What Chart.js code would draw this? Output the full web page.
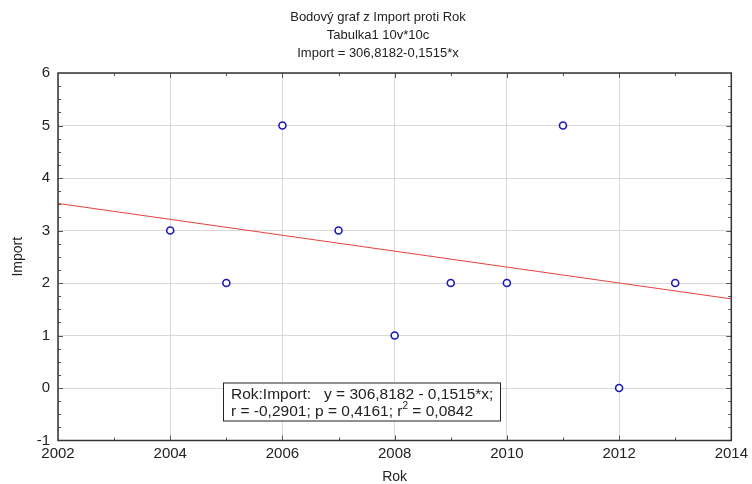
<!DOCTYPE html>
<html>
<head>
<meta charset="utf-8">
<script src="https://cdn.jsdelivr.net/npm/chart.js@4"></script>
<style>
  html, body { margin: 0; padding: 0; background: #fff; }
  #wrap { width: 752px; height: 484px; }
</style>
</head>
<body>
<div id="wrap"><canvas id="chart" width="752" height="484"></canvas></div>
<script>
// Données
var roky = [2004, 2005, 2006, 2007, 2008, 2009, 2010, 2011, 2012, 2013];
var importy = [3, 2, 5, 3, 1, 2, 2, 5, 0, 2];

// Droite de régression : Import = 306,8182 - 0,1515*x
var fit_a = 306.8182;
var fit_b = -0.1515;
var x_min = 2002, x_max = 2014;
var y_min = -1, y_max = 6;

var titres = ['Bodový graf z Import proti Rok', 'Tabulka1 10v*10c', 'Import = 306,8182-0,1515*x'];
var legende1 = 'Rok:Import:   y = 306,8182 - 0,1515*x;';
var legende2a = 'r = -0,2901; p = 0,4161; r';
var legende2b = ' = 0,0842';

var police = '"Liberation Sans", Arial, sans-serif';

var points = roky.map(function (r, i) { return { x: r, y: importy[i] }; });
var droite = [
	{ x: x_min, y: fit_a + fit_b * x_min },
	{ x: x_max, y: fit_a + fit_b * x_max }
];

// Plugin pour les titres, le cadre, les petites graduations et la boîte de texte
var decor = {
	id: 'decor',
	afterDraw: function (chart) {
		var ctx = chart.ctx;
		var a = chart.chartArea;
		var sx = chart.scales.x, sy = chart.scales.y;
		ctx.save();

		// titres
		ctx.fillStyle = '#222';
		ctx.font = '13px ' + police;
		ctx.textAlign = 'center';
		ctx.textBaseline = 'middle';
		titres.forEach(function (t, i) { ctx.fillText(t, 378, 17 + i * 18); });

		// titres des axes
		ctx.font = '14px ' + police;
		ctx.fillText('Rok', (a.left + a.right) / 2, 477);
		ctx.save();
		ctx.translate(18, (a.top + a.bottom) / 2);
		ctx.rotate(-Math.PI / 2);
		ctx.fillText('Import', 0, 0);
		ctx.restore();

		// petites graduations
		ctx.strokeStyle = '#555';
		ctx.lineWidth = 1;
		ctx.beginPath();
		for (var x = x_min + 1; x < x_max; x++) {
			var px = Math.round(sx.getPixelForValue(x)) + 0.5;
			var l = (x % 2 === 0) ? 5 : 3;
			ctx.moveTo(px, a.bottom); ctx.lineTo(px, a.bottom - l);
			ctx.moveTo(px, a.top); ctx.lineTo(px, a.top + l);
		}
		for (var y = y_min + 0.25; y < y_max; y += 0.25) {
			var py = Math.round(sy.getPixelForValue(y)) + 0.5;
			var m = (Math.abs(y - Math.round(y)) < 1e-6) ? 5 : 3;
			ctx.moveTo(a.left, py); ctx.lineTo(a.left + m, py);
			ctx.moveTo(a.right, py); ctx.lineTo(a.right - m, py);
		}
		ctx.stroke();

		// cadre
		ctx.strokeStyle = '#333';
		ctx.lineWidth = 1.5;
		ctx.strokeRect(a.left, a.top, a.right - a.left, a.bottom - a.top);

		// boîte de texte
		var bx = a.left + 165, by = a.bottom - 58, bw = 277, bh = 38;
		ctx.fillStyle = '#fff';
		ctx.fillRect(bx, by, bw, bh);
		ctx.strokeStyle = '#222';
		ctx.lineWidth = 1;
		ctx.strokeRect(bx + 0.5, by + 0.5, bw, bh);
		ctx.fillStyle = '#222';
		ctx.font = '15.5px ' + police;
		ctx.textAlign = 'left';
		ctx.textBaseline = 'alphabetic';
		ctx.fillText(legende1, bx + 8, by + 16);
		ctx.fillText(legende2a, bx + 8, by + 33);
		var w = ctx.measureText(legende2a).width;
		ctx.font = '10px ' + police;
		ctx.fillText('2', bx + 8 + w, by + 26);
		var w2 = ctx.measureText('2').width;
		ctx.font = '15.5px ' + police;
		ctx.fillText(legende2b, bx + 8 + w + w2, by + 33);

		ctx.restore();
	}
};

var chart = new Chart(document.getElementById('chart'), {
	type: 'scatter',
	data: {
		datasets: [{
			label: 'Import',
			data: points,
			showLine: false,
			pointStyle: 'circle',
			pointRadius: 3.5,
			pointBorderWidth: 1.6,
			pointBorderColor: '#1a1ab4',
			pointBackgroundColor: '#fff',
			order: 1
		}, {
			label: 'Regrese',
			data: droite,
			showLine: true,
			borderColor: '#e8413c',
			borderWidth: 1,
			pointRadius: 0,
			fill: false,
			order: 2
		}]
	},
	options: {
		responsive: false,
		animation: false,
		layout: { padding: { top: 73, right: 19, left: 0, bottom: 0 } },
		plugins: {
			legend: { display: false },
			title: { display: false },
			tooltip: { enabled: false }
		},
		scales: {
			x: {
				type: 'linear',
				min: x_min, max: x_max,
				border: { display: false },
				grid: { color: '#d9d9d9', lineWidth: 1, drawTicks: false },
				ticks: {
					stepSize: 2, padding: 4, color: '#222',
					font: { family: police, size: 15 },
					callback: function (v) { return String(v); }
				},
				afterFit: function (s) { s.height = 43.5; }
			},
			y: {
				min: y_min, max: y_max,
				border: { display: false },
				grid: { color: '#d9d9d9', lineWidth: 1, drawTicks: false },
				ticks: {
					stepSize: 1, padding: 8, color: '#222',
					font: { family: police, size: 15 },
					callback: function (v) { return String(v); }
				},
				afterFit: function (s) { s.width = 58; }
			}
		}
	},
	plugins: [decor]
});
</script>
</body>
</html>
